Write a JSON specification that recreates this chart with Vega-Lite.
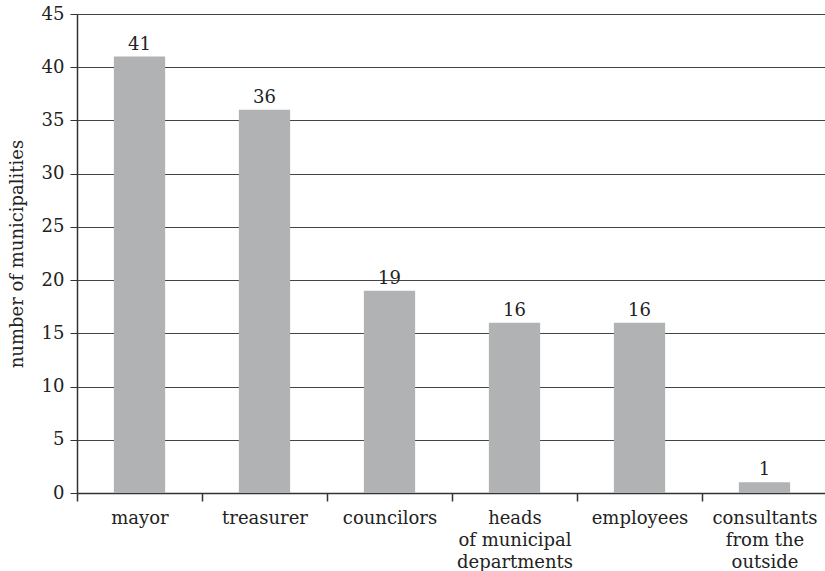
{
  "$schema": "https://vega.github.io/schema/vega-lite/v6.json",
  "width": 750,
  "height": 479,
  "autosize": "none",
  "padding": {"left": 77, "top": 14, "right": 0, "bottom": 78},
  "background": "white",
  "config": {
    "font": "DejaVu Serif",
    "view": {"stroke": null}
  },
  "data": {
    "values": [
      {"role": "mayor", "count": 41},
      {"role": "treasurer", "count": 36},
      {"role": "councilors", "count": 19},
      {"role": "heads|of municipal|departments", "count": 16},
      {"role": "employees", "count": 16},
      {"role": "consultants|from the|outside", "count": 1}
    ]
  },
  "encoding": {
    "x": {
      "field": "role",
      "type": "nominal",
      "sort": null,
      "scale": {"paddingInner": 0, "paddingOuter": 0},
      "axis": {
        "title": null,
        "labelAngle": 0,
        "labelExpr": "split(datum.label, '|')",
        "labelFont": "DejaVu Serif",
        "labelFontSize": 18,
        "labelColor": "#222",
        "labelLineHeight": 22,
        "labelPadding": 8,
        "labelBaseline": "top",
        "ticks": true,
        "tickBand": "extent",
        "tickSize": 8,
        "tickWidth": 1.5,
        "tickColor": "#333",
        "domainColor": "#333",
        "domainWidth": 1.5,
        "grid": false
      }
    },
    "y": {
      "field": "count",
      "type": "quantitative",
      "scale": {"domain": [0, 45], "nice": false},
      "axis": {
        "title": "number of municipalities",
        "titleFont": "DejaVu Serif",
        "titleFontSize": 18,
        "titleFontWeight": "normal",
        "titleColor": "#222",
        "titlePadding": 15,
        "values": [0, 5, 10, 15, 20, 25, 30, 35, 40, 45],
        "labelFont": "DejaVu Serif",
        "labelFontSize": 18,
        "labelColor": "#222",
        "labelPadding": 6,
        "tickSize": 7,
        "tickColor": "#333",
        "domainColor": "#333",
        "domainWidth": 1.5,
        "grid": true,
        "gridColor": "#444",
        "gridWidth": 1
      }
    }
  },
  "layer": [
    {"mark": {"type": "bar", "color": "#b1b2b4", "width": {"band": 0.41}}},
    {
      "mark": {"type": "text", "baseline": "bottom", "dy": -3, "fontSize": 18, "color": "#222", "font": "DejaVu Serif"},
      "encoding": {"text": {"field": "count", "type": "quantitative"}}
    }
  ]
}
